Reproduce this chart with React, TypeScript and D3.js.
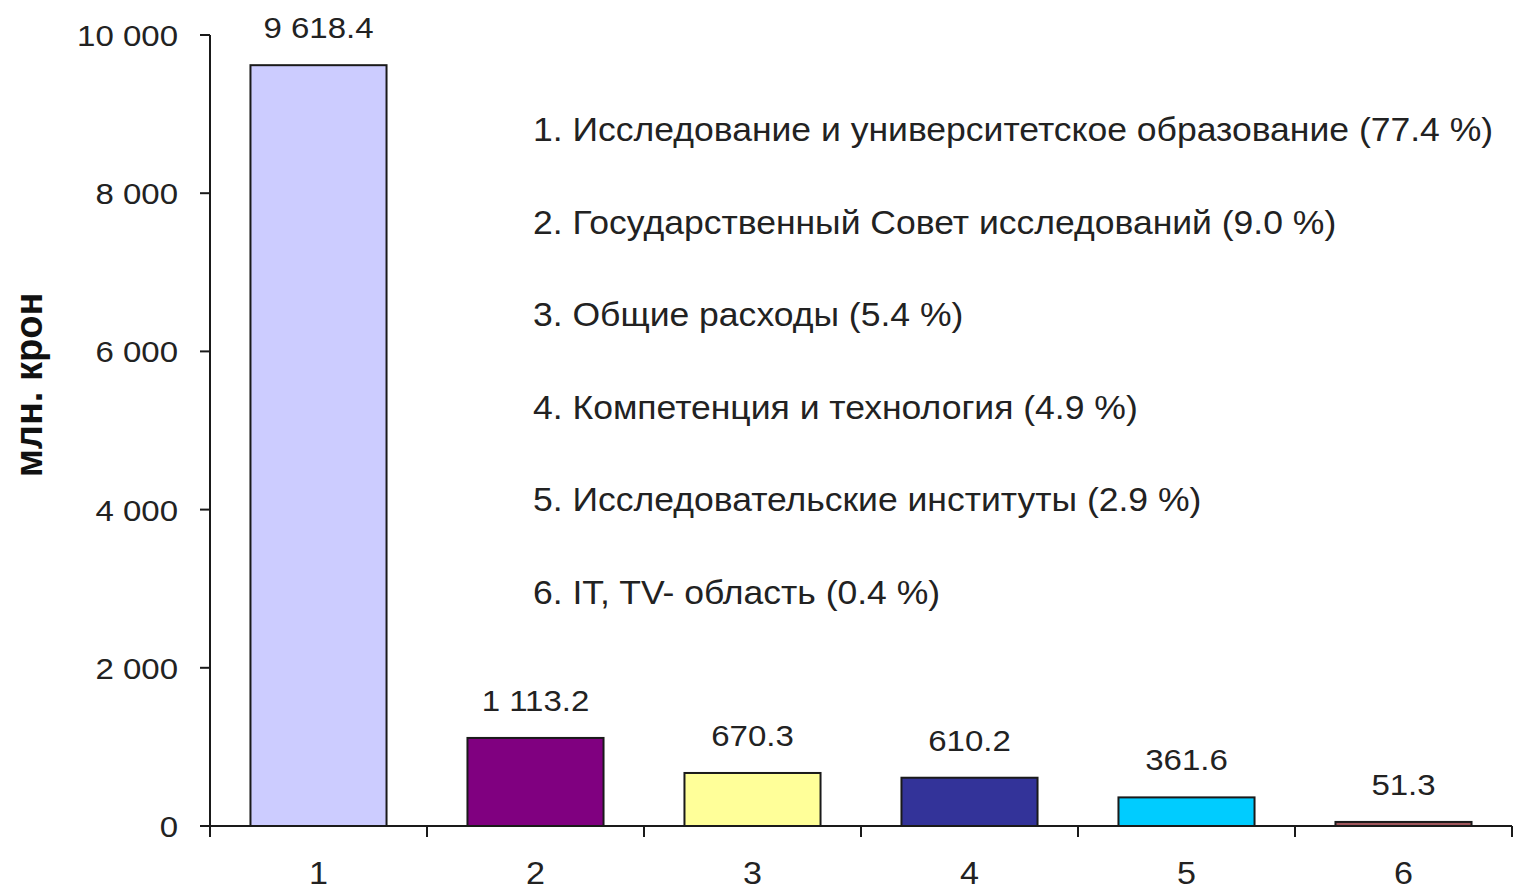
import React from 'react';
import * as d3 from 'd3';

const categories = ['1', '2', '3', '4', '5', '6'];
const values = [9618.4, 1113.2, 670.3, 610.2, 361.6, 51.3];
const barColors = ['#ccccff', '#800080', '#ffff99', '#333399', '#00ccff', '#a0565c'];
const yTicks = [0, 2000, 4000, 6000, 8000, 10000];
const legendItems = [
  '1. Исследование и университетское образование (77.4 %)',
  '2. Государственный Совет исследований (9.0 %)',
  '3. Общие расходы (5.4 %)',
  '4. Компетенция и технология (4.9 %)',
  '5. Исследовательские институты (2.9 %)',
  '6. IT, TV- область (0.4 %)'
];
const yTitle = 'млн. крон';

const W = 1513;
const H = 891;
const margin = { top: 35, right: 1, bottom: 65, left: 210 };

const locale = d3.formatLocale({ decimal: '.', thousands: '\u00a0', grouping: [3], currency: ['', ''] });
const fmtTick = locale.format(',d');
const fmtVal = locale.format(',.1f');

const FONT = 'Arial, "Liberation Sans", Helvetica, sans-serif';
// the source picture is stretched sideways a little, so text is widened too
const SX = 1.1;

const Label = ({ x, y, size, anchor = 'start', children }: any) => (
  <text
    transform={`translate(${x},${y}) scale(${SX},1)`}
    textAnchor={anchor}
    fontSize={size}
    fill="#222"
  >
    {children}
  </text>
);

export default function App() {
  const innerW = W - margin.left - margin.right;
  const innerH = H - margin.top - margin.bottom;

  const x = d3.scaleBand<string>()
    .domain(categories)
    .range([0, innerW])
    .paddingInner(0.373)
    .paddingOuter(0.1865);
  const y = d3.scaleLinear().domain([0, 10000]).range([innerH, 0]);

  const boundaries = d3.range(categories.length + 1).map(i => i * (innerW / categories.length));
  const legendY = d3.scaleLinear().domain([0, legendItems.length - 1]).range([141, 604]);

  return (
    <div style={{ position: 'absolute', left: 0, top: 0 }}>
      <svg width={W} height={H} style={{ display: 'block', background: '#fff' }} fontFamily={FONT}>
        <g transform={`translate(${margin.left},${margin.top})`}>
          {categories.map((c, i) => (
            <g key={c}>
              <rect
                x={x(c)}
                y={y(values[i])}
                width={x.bandwidth()}
                height={innerH - y(values[i])}
                fill={barColors[i]}
                stroke="#1a1a1a"
                strokeWidth={2}
              />
              <Label x={x(c)! + x.bandwidth() / 2} y={y(values[i]) - 27} size={30} anchor="middle">
                {fmtVal(values[i])}
              </Label>
              <Label x={x(c)! + x.bandwidth() / 2} y={innerH + 58} size={31} anchor="middle">
                {c}
              </Label>
            </g>
          ))}

          {/* y axis */}
          <line x1={0} x2={0} y1={y(10000)} y2={innerH} stroke="#1a1a1a" strokeWidth={2} />
          {yTicks.map(t => (
            <g key={t}>
              <line x1={-10} x2={0} y1={y(t)} y2={y(t)} stroke="#1a1a1a" strokeWidth={2} />
              <Label x={-32} y={y(t) + 11} size={30} anchor="end">
                {fmtTick(t)}
              </Label>
            </g>
          ))}

          {/* x axis */}
          <line x1={0} x2={innerW} y1={innerH} y2={innerH} stroke="#1a1a1a" strokeWidth={2} />
          {boundaries.map((b, i) => (
            <line key={i} x1={b} x2={b} y1={innerH} y2={innerH + 11} stroke="#1a1a1a" strokeWidth={2} />
          ))}
        </g>

        <text
          transform="translate(42,385) rotate(-90)"
          textAnchor="middle"
          fontSize={38}
          fontWeight="bold"
          fill="#111"
        >
          {yTitle}
        </text>

        {legendItems.map((d, i) => (
          <Label key={i} x={533} y={legendY(i)} size={32.3}>
            {d}
          </Label>
        ))}
      </svg>
    </div>
  );
}
